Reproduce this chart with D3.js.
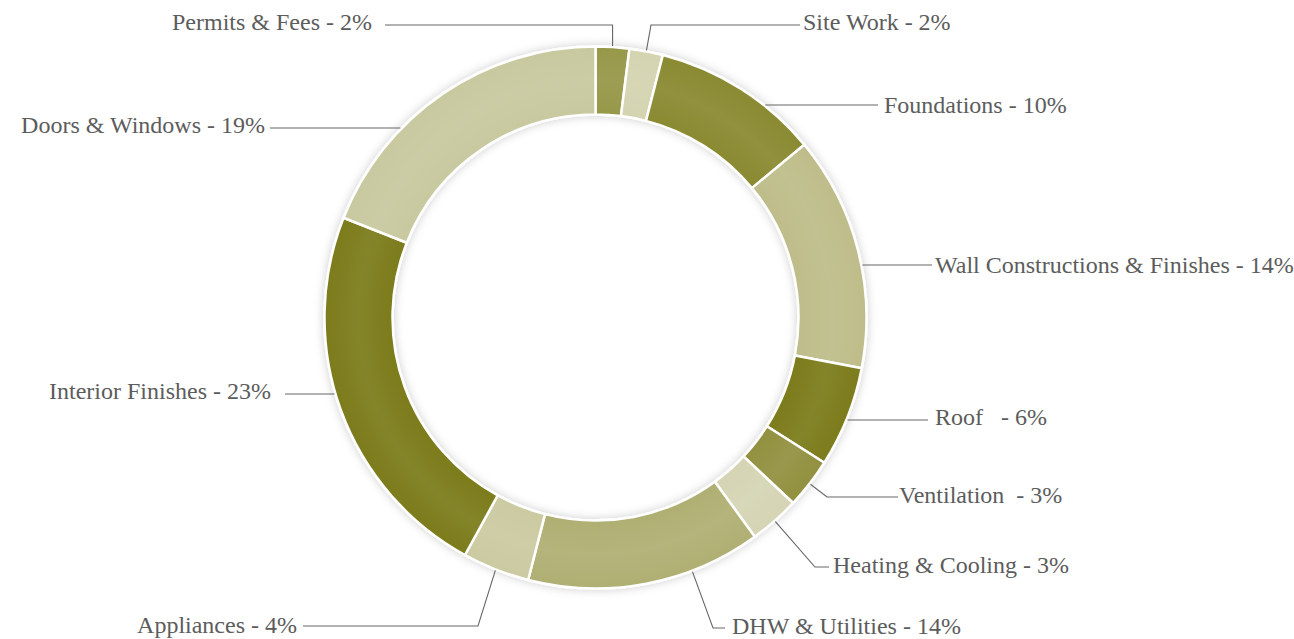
<!DOCTYPE html>
<html>
<head>
<meta charset="utf-8">
<script src="https://cdn.jsdelivr.net/npm/d3@7"></script>
<style>
  html, body { margin: 0; padding: 0; background: #ffffff; }
  svg { display: block; }
  text { white-space: pre; }
</style>
</head>
<body>
<svg id="chart" width="1294" height="639"></svg>
<script>
// ---- Data ----
const categories = ["Permits & Fees", "Site Work", "Foundations", "Wall Constructions & Finishes", "Roof", "Ventilation", "Heating & Cooling", "DHW & Utilities", "Appliances", "Interior Finishes", "Doors & Windows"];
const values = [2, 2, 10, 14, 6, 3, 3, 14, 4, 23, 19];
const labelTexts = ["Permits & Fees - 2%", "Site Work - 2%", "Foundations - 10%", "Wall Constructions & Finishes - 14%", "Roof   - 6%", "Ventilation  - 3%", "Heating & Cooling - 3%", "DHW & Utilities - 14%", "Appliances - 4%", "Interior Finishes - 23%", "Doors & Windows - 19%"];
const colors = ["#979849", "#d4d4b1", "#8a8a31", "#bebd8a", "#7b7b1b", "#929140", "#d5d5b5", "#b0af73", "#cbcaa1", "#7b7c1c", "#c8c99f"];

// ---- Layout (label placement, not data) ----
const W = 1294, H = 639;
const cx = 595.5, cy = 317.5, rOuter = 271, rInner = 203;
const FONT = "'Liberation Serif', 'Times New Roman', Tinos, Times, 'DejaVu Serif', serif";
const labelLayout = [
  { kind: "v", lineY: 25, lineEnd: 385, tx: 372, ty: 30, anchor: "end" },
  { kind: "e", at: 0.5, ex: 651, ey: 25, lineEnd: 800, tx: 803, ty: 30, anchor: "start" },
  { kind: "h", side: 1, lineY: 105, lineEnd: 878, tx: 884, ty: 113, anchor: "start" },
  { kind: "h", side: 1, lineY: 265, lineEnd: 932, tx: 935, ty: 273, anchor: "start" },
  { kind: "h", side: 1, lineY: 420, lineEnd: 928, tx: 935, ty: 425, anchor: "start" },
  { kind: "e", at: 0.5, ex: 827, ey: 497, lineEnd: 898, tx: 899, ty: 503, anchor: "start" },
  { kind: "e", at: 0.5, ex: 815, ey: 567, lineEnd: 829, tx: 833, ty: 573, anchor: "start" },
  { kind: "e", at: 0.3, ex: 713, ey: 628, lineEnd: 725, tx: 732, ty: 634, anchor: "start" },
  { kind: "e", at: 0.5, ex: 478, ey: 626, lineEnd: 303, tx: 297, ty: 633, anchor: "end" },
  { kind: "h", side: -1, lineY: 394, lineEnd: 285, tx: 271, ty: 399, anchor: "end" },
  { kind: "h", side: -1, lineY: 128, lineEnd: 270, tx: 265, ty: 133, anchor: "end" }
];

const svg = d3.select("#chart");
const defs = svg.append("defs");

// soft shadow
const f = defs.append("filter").attr("id", "shadow")
  .attr("x", "-20%").attr("y", "-20%").attr("width", "140%").attr("height", "140%");
f.append("feGaussianBlur").attr("in", "SourceAlpha").attr("stdDeviation", 5).attr("result", "blur");
f.append("feFlood").attr("flood-color", "#000").attr("flood-opacity", 0.2).attr("result", "col");
f.append("feComposite").attr("in", "col").attr("in2", "blur").attr("operator", "in").attr("result", "sh");
const fm = f.append("feMerge");
fm.append("feMergeNode").attr("in", "sh");
fm.append("feMergeNode").attr("in", "SourceGraphic");

// subtle radial sheen
const rg = defs.append("radialGradient").attr("id", "sheen")
  .attr("gradientUnits", "userSpaceOnUse")
  .attr("cx", 0).attr("cy", 0).attr("r", rOuter);
rg.append("stop").attr("offset", rInner / rOuter).attr("stop-color", "#fff").attr("stop-opacity", 0);
rg.append("stop").attr("offset", (rInner + (rOuter - rInner) * 0.5) / rOuter).attr("stop-color", "#fff").attr("stop-opacity", 0.06);
rg.append("stop").attr("offset", 1).attr("stop-color", "#fff").attr("stop-opacity", 0);

const pie = d3.pie().sort(null).value(d => d).startAngle(0).endAngle(2 * Math.PI);
const arcs = pie(values);
const arc = d3.arc().innerRadius(rInner).outerRadius(rOuter);

const g = svg.append("g").attr("transform", `translate(${cx},${cy})`);
const ring = g.append("g").attr("filter", "url(#shadow)");
ring.selectAll("path.slice").data(arcs).join("path")
  .attr("class", "slice")
  .attr("d", arc)
  .attr("fill", (d, i) => colors[i])
  .attr("stroke", "#ffffff")
  .attr("stroke-width", 2.5)
  .attr("stroke-linejoin", "round");
g.selectAll("path.sheen").data(arcs).join("path")
  .attr("class", "sheen")
  .attr("d", d3.arc().innerRadius(rInner + 1.5).outerRadius(rOuter - 1.5))
  .attr("fill", "url(#sheen)");

// ---- Leaders and labels ----
const lines = svg.append("g").attr("fill", "none").attr("stroke", "#666").attr("stroke-width", 1.1);
const rLead = rOuter + 1;
function pointAt(angle, r) {
  return [cx + r * Math.sin(angle), cy - r * Math.cos(angle)];
}
arcs.forEach((a, i) => {
  const L = labelLayout[i];
  let pts;
  if (L.kind === "h") {
    const dy = L.lineY - cy;
    const dx = Math.sqrt(Math.max(0, rLead * rLead - dy * dy));
    pts = [[cx + L.side * dx, L.lineY], [L.lineEnd, L.lineY]];
  } else if (L.kind === "v") {
    const mid = (a.startAngle + a.endAngle) / 2;
    const p = pointAt(mid, rLead);
    pts = [p, [p[0], L.lineY], [L.lineEnd, L.lineY]];
  } else {
    const ang = a.startAngle + (a.endAngle - a.startAngle) * L.at;
    const p = pointAt(ang, rLead);
    pts = [p, [L.ex, L.ey], [L.lineEnd, L.ey]];
  }
  lines.append("path").attr("d", d3.line()(pts));
  svg.append("text")
    .attr("x", L.tx).attr("y", L.ty)
    .attr("text-anchor", L.anchor)
    .attr("font-family", FONT)
    .style("font-family", FONT)
    .attr("font-size", 24)
    .attr("fill", "#5c5c5c")
    .text(labelTexts[i]);
});
</script>
</body>
</html>
